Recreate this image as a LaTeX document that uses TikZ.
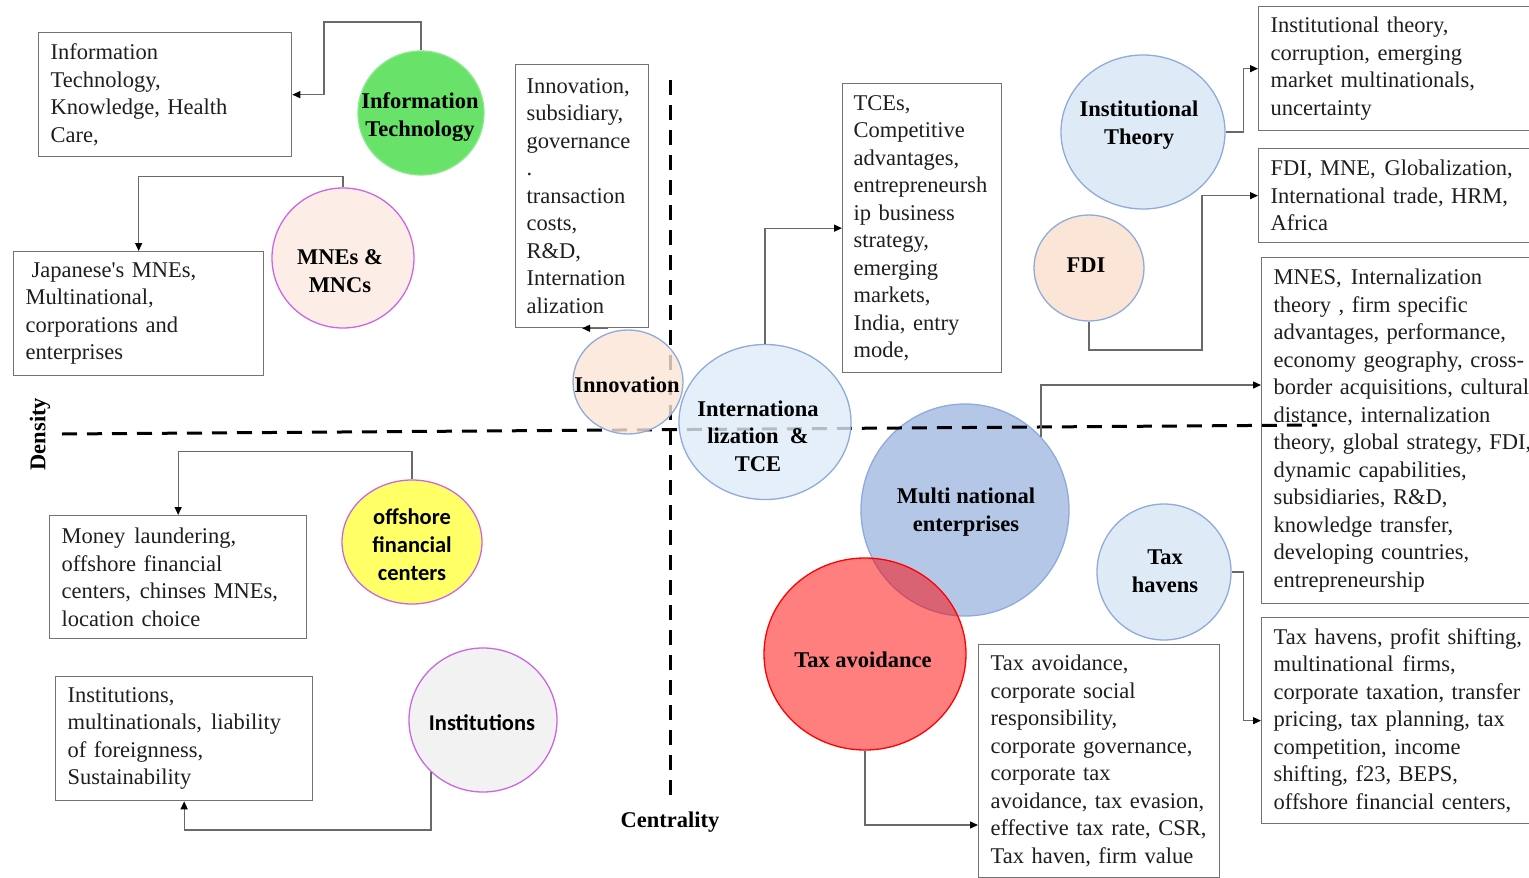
\documentclass[tikz,border=0pt]{standalone}
\usepackage{fontspec}
\setmainfont{Liberation Serif}
\newfontfamily\calib{Carlito}
\usetikzlibrary{shapes.geometric,arrows.meta}
\definecolor{boxgray}{RGB}{115,115,115}
\definecolor{conngray}{RGB}{105,105,105}
\definecolor{txt}{RGB}{30,30,30}
\definecolor{itgreen}{RGB}{104,226,104}
\definecolor{itgreenb}{RGB}{140,232,140}
\definecolor{violet}{RGB}{204,102,228}
\definecolor{bblue}{RGB}{143,170,220}
\definecolor{lblue}{RGB}{222,235,247}
\definecolor{peach}{RGB}{251,229,214}
\definecolor{lpeach}{RGB}{252,238,230}
\definecolor{mblue}{RGB}{180,199,231}
\definecolor{yel}{RGB}{255,255,102}
\definecolor{lgray}{RGB}{242,242,242}
\newcommand{\wsp}{\hspace{9pt}}
\tikzset{
  kbox/.style={draw=boxgray, line width=1.3pt, rectangle, anchor=north west, align=left,
    inner xsep=12pt, inner ysep=0pt, text=txt, font=\fontsize{22.5}{27.5}\selectfont},
  bub/.style={ellipse, inner sep=0pt, line width=1.3pt},
  blab/.style={align=center, inner sep=0pt, font=\fontsize{22.5}{27.5}\selectfont\bfseries},
  slab/.style={align=center, inner sep=0pt, font=\calib\fontsize{22.5}{28}\selectfont\bfseries},
  conn/.style={draw=conngray, line width=1.3pt, -{Triangle[length=8pt,width=7pt,color=black]}},
  axisline/.style={line width=3pt, dash pattern=on 15pt off 10pt},
}
\begin{document}
\begin{tikzpicture}[x=1pt,y=-1pt]
\useasboundingbox (0,0) rectangle (1529,878);
\clip (0,0) rectangle (1529,878);

% ---------- keyword boxes ----------
\node[kbox, minimum height=124pt, text width=229pt] (boxA) at (38,32)
  {Information\\Technology,\\Knowledge, Health\\Care,};
\node[kbox, minimum height=124pt, text width=226pt] (boxB) at (13,251)
  {\hspace*{6pt}Japanese\textquotesingle s MNEs,\\Multinational,\\corporations and\\enterprises};
\node[kbox, inner xsep=11pt, minimum height=263pt, text width=111pt] (boxC) at (515,64)
  {Innovation,\\subsidiary,\\governance\\.\\transaction\\costs,\\R\&D,\\Internation\\alization};
\node[kbox, inner xsep=11pt, minimum height=289pt, text width=137pt] (boxD) at (842,83)
  {TCEs,\\Competitive\\advantages,\\entrepreneursh\\ip business\\strategy,\\emerging\\markets,\\India, entry\\mode,};
\node[kbox, minimum height=124pt, text width=263pt] (boxE) at (1258,6)
  {Institutional theory,\\corruption, emerging\\market multinationals,\\uncertainty};
\node[kbox, minimum height=94pt, text width=263pt] (boxF) at (1258,148)
  {FDI, MNE,\wsp Globalization,\\International trade, HRM,\\Africa};
\node[kbox, minimum height=346pt, text width=263pt] (boxG) at (1261,257)
  {MNES,\wsp Internalization\\theory , firm specific\\advantages, performance,\\economy geography, cross-\\border acquisitions, cultural\\distance, internalization\\theory, global strategy, FDI,\\dynamic capabilities,\\subsidiaries, R\&D,\\knowledge transfer,\\developing countries,\\entrepreneurship};
\node[kbox, minimum height=206pt, text width=263pt] (boxH) at (1261,617)
  {Tax havens, profit shifting,\\multinational\wsp firms,\\corporate taxation, transfer\\pricing, tax planning, tax\\competition, income\\shifting, f23, BEPS,\\offshore financial centers,};
\node[kbox, minimum height=233pt, text width=217pt] (boxI) at (978,644)
  {Tax avoidance,\\corporate social\\responsibility,\\corporate governance,\\corporate tax\\avoidance, tax evasion,\\effective tax rate, CSR,\\Tax haven, firm value};
\node[kbox, minimum height=123pt, text width=233pt] (boxJ) at (49,515)
  {Money\wsp laundering,\\offshore financial\\centers,\wsp chinses MNEs,\\location choice};
\node[kbox, minimum height=124pt, text width=233pt] (boxK) at (55,676)
  {Institutions,\\multinationals,\wsp liability\\of foreignness,\\Sustainability};

% ---------- bubbles (opaque) ----------
\node[bub, fill=mblue, draw=bblue, minimum width=208pt, minimum height=212pt] (mne) at (965,510) {};
\node[bub, fill=red, fill opacity=0.5, draw=red, draw opacity=1, minimum width=202pt, minimum height=192pt] (ta) at (865,654) {};
\node[bub, fill=itgreen, draw=itgreenb, minimum width=126pt, minimum height=124pt] (it) at (421,113) {};
\node[bub, fill=lpeach, draw=violet, minimum width=142pt, minimum height=140pt] (mnes) at (343,258) {};
\node[bub, fill=lblue, draw=bblue, minimum width=164pt, minimum height=154pt] (ith) at (1143,132) {};
\node[bub, fill=peach, draw=bblue, minimum width=110pt, minimum height=106pt] (fdi) at (1089,268) {};
\node[bub, fill=lblue, draw=bblue, minimum width=134pt, minimum height=136pt] (th) at (1164,572) {};
\node[bub, fill=yel, draw=violet, minimum width=140pt, minimum height=124pt] (ofc) at (412,542) {};
\node[bub, fill=lgray, draw=violet, minimum width=148pt, minimum height=144pt] (inst) at (483,720) {};

% ---------- axes ----------
\coordinate (hL) at (62,434);
\coordinate (hR) at (1317,425);
\coordinate (vT) at (670,80);
\coordinate (vB) at (670,800);
\draw[axisline] (hL) -- (hR);
\draw[axisline] (vT) -- (vB);
\node[blab, rotate=90] (dens) at (40,434) {Density};
\node[blab] (cent) at (670,822) {Centrality};

% ---------- translucent bubbles over the axes ----------
\node[bub, fill=peach, fill opacity=0.8, draw=bblue, draw opacity=1, minimum width=110pt, minimum height=104pt] (inno) at (628,382) {};
\node[bub, fill=lblue, fill opacity=0.8, draw=bblue, draw opacity=1, minimum width=172pt, minimum height=155pt] (intl) at (765,422) {};

% ---------- connectors ----------
\coordinate (gin) at (1261,385);
\coordinate (iin) at (978,825);
\draw[conn] (it.north) |- (324,22) |- (boxA.east);
\draw[conn] (mnes.north) -- ++(0,-11) -| (boxB.north);
\draw[conn] (inno.112 |- boxC.south) -- (boxC.south);
\draw[conn] (intl.north) |- (boxD.west);
\draw[conn] (ith.east) -- ++(18,0) |- (boxE.west);
\draw[conn] (fdi.south) |- (1202,350) |- (boxF.west);
\draw[conn] (mne.44) |- (gin);
\draw[conn] (th.east) -- ++(12,0) |- (boxH.west);
\draw[conn] (ta.south) |- (iin);
\draw[conn] (ofc.north) -- ++(0,-28) -| (boxJ.north);
\draw[conn] (inst.225) -- ++(0,58) -| (boxK.south);

% ---------- bubble labels ----------
\node[blab] (itl) at (420,117) {Information\\Technology};
\node[blab] (mnesl) at (340,271) {MNEs \&\\MNCs};
\node[blab] (innol) at (627,385) {Innovation};
\node[blab] (intll) at (758,436) {Internationa\\lization \ \&\\TCE};
\node[blab] (ithl) at (1139,125) {Institutional\\Theory};
\node[blab] (fdil) at (1086,265) {FDI};
\node[blab] (mnel) at (966,512) {Multi national\\enterprises};
\node[blab] (tal) at (863,660) {Tax avoidance};
\node[blab] (thl) at (1165,571) {Tax\\havens};
\node[slab] (ofcl) at (412,545) {offshore\\financial\\centers};
\node[slab] (instl) at (482,723) {Institutions};
\end{tikzpicture}
\end{document}
